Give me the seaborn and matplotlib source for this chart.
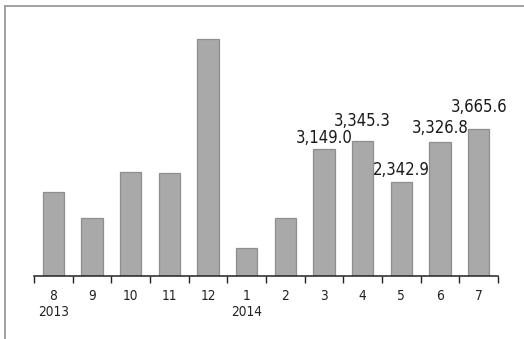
import matplotlib
matplotlib.use("Agg")
import matplotlib.pyplot as plt
from matplotlib.lines import Line2D
import seaborn as sns
import pandas as pd

# ---- data ----
months = ["8", "9", "10", "11", "12", "1", "2", "3", "4", "5", "6", "7"]
years = ["2013", "", "", "", "", "2014", "", "", "", "", "", ""]
values = [2080, 1440, 2600, 2570, 5880, 700, 1450, 3149.0, 3345.3, 2342.9, 3326.8, 3665.6]
labeled = [False, False, False, False, False, False, False, True, True, True, True, True]
label_lift_px = [0, 0, 0, 0, 0, 0, 0, 2, 11, 3, 5, 13]

df = pd.DataFrame({"month": months, "value": values})

sns.set_theme(style="white")
plt.rcParams["font.family"] = ["DejaVu Sans"]
plt.rcParams["font.stretch"] = "condensed"

fig = plt.figure(figsize=(5.24, 3.39), dpi=100)
ax = fig.add_axes([34 / 524, 1 - 276.3 / 339, (498 - 34) / 524, (276.3 - 14.3) / 339])

sns.barplot(data=df, x="month", y="value", order=months, color="#a9a9a9",
            edgecolor="#8e8e8e", linewidth=0.9, width=0.55, saturation=1, ax=ax)

ax.set_xlim(-0.5, len(months) - 0.5)
ax.set_ylim(0, 6500)
ax.set_xlabel("")
ax.set_ylabel("")
ax.set_yticks([])
ax.set_xticks(range(len(months)))
ax.set_xticklabels([m + ("\n" + y if y else "") for m, y in zip(months, years)],
                   fontsize=9.8, color="#222222", linespacing=1.22,
                   fontstretch="condensed")
ax.tick_params(axis="x", which="major", length=0, pad=9)
ax.set_xticks([i - 0.5 for i in range(len(months) + 1)], minor=True)
ax.tick_params(axis="x", which="minor", length=5, width=1, color="#222222",
               direction="out", bottom=True)
for s in ["top", "right", "left"]:
    ax.spines[s].set_visible(False)
ax.spines["bottom"].set_color("#222222")
ax.spines["bottom"].set_linewidth(1.1)

for i, (v, show, lift) in enumerate(zip(values, labeled, label_lift_px)):
    if show:
        ax.annotate(f"{v:,.1f}", xy=(i, v), xytext=(0, lift * 0.72),
                    textcoords="offset points", ha="center", va="bottom",
                    fontsize=12, color="#1a1a1a", fontstretch="condensed")

# outer frame (top and left only)
fig.add_artist(Line2D([5 / 524, 1.0], [1 - 6 / 339, 1 - 6 / 339],
                      transform=fig.transFigure, color="#9a9a9a", linewidth=1.3))
fig.add_artist(Line2D([5 / 524, 5 / 524], [0, 1 - 6 / 339],
                      transform=fig.transFigure, color="#9a9a9a", linewidth=1.3))

fig.savefig("out.png", dpi=100)
